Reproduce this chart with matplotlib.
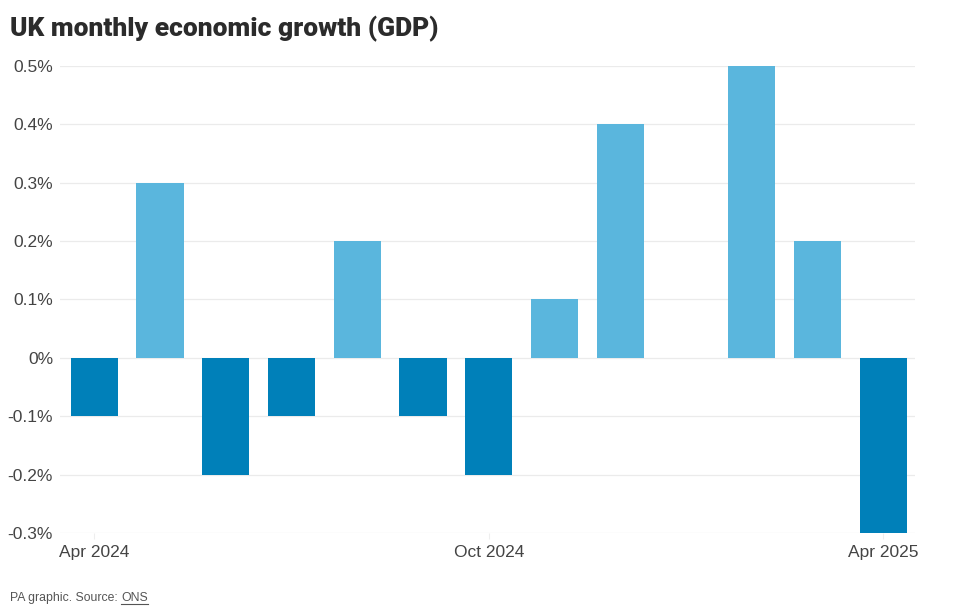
import matplotlib
matplotlib.use("Agg")
import matplotlib.pyplot as plt
import numpy as np

# data: UK monthly GDP growth (%)
months = ["Apr 2024", "May 2024", "Jun 2024", "Jul 2024", "Aug 2024", "Sep 2024",
          "Oct 2024", "Nov 2024", "Dec 2024", "Jan 2025", "Feb 2025", "Mar 2025", "Apr 2025"]
growth = [-0.1, 0.3, -0.2, -0.1, 0.2, -0.1, -0.2, 0.1, 0.4, 0.0, 0.5, 0.2, -0.3]
yticks = [-0.3, -0.2, -0.1, 0, 0.1, 0.2, 0.3, 0.4, 0.5]
xtick_labels = ["Apr 2024", "Oct 2024", "Apr 2025"]

plt.rcParams['font.family'] = ['Liberation Sans', 'DejaVu Sans']

fig = plt.figure(figsize=(9.6, 6.11), dpi=100)
ax = fig.add_axes([0.0625, 0.1277, 0.8905, 0.7643])

x = np.arange(len(months))
cols = ["#5ab6dd" if v > 0 else "#0080b9" for v in growth]
ax.bar(x, growth, width=0.72, color=cols, zorder=3)

ax.set_xlim(-0.52, 12.48)
ax.set_ylim(-0.3, 0.5)
ax.set_yticks(yticks)
ax.set_yticklabels(["0%" if v == 0 else f"{v:.1f}%" for v in yticks])
ax.yaxis.grid(True, color="#ebebeb", linewidth=0.9, zorder=0)
ax.tick_params(axis="y", length=0, pad=5, labelsize=12.5, labelcolor="#444444")

pos = [months.index(m) for m in xtick_labels]
ax.set_xticks(pos)
ax.set_xticklabels(xtick_labels)
ax.tick_params(axis="x", length=4, color="#eeeeee", pad=5, labelsize=12.5, labelcolor="#444444")

for s in ax.spines.values():
    s.set_visible(False)

fig.text(0.0105, 0.953, "UK monthly economic growth (GDP)", fontsize=19, fontweight=900,
         color="#2b2b2b", family=["Roboto", "DejaVu Sans"], va="center")
t = fig.text(0.0105, 0.021, "PA graphic. Source: ", fontsize=8.8, color="#555555", va="center")
fig.canvas.draw()
bb = t.get_window_extent()
ons_x0 = bb.x1 / fig.bbox.width
o = fig.text(ons_x0, 0.021, "ONS", fontsize=8.8, color="#555555", va="center")
fig.canvas.draw()
ob = o.get_window_extent()
fig.add_artist(plt.Line2D([ons_x0, ob.x1 / fig.bbox.width], [0.012, 0.012], color="#555555", linewidth=0.8))

fig.savefig("out.png", dpi=100, facecolor="white")
